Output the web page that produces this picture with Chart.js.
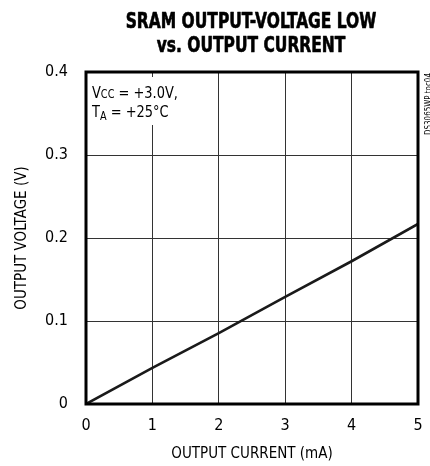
<!DOCTYPE html>
<html lang="en">
<head>
    <meta charset="UTF-8">
    <title>SRAM Output-Voltage Low vs. Output Current</title>
    <script src="https://cdn.jsdelivr.net/npm/chart.js"></script>
    <style>
        * {
            margin: 0;
            padding: 0;
            box-sizing: border-box;
        }

        body {
            background-color: #ffffff;
            width: 430px;
            height: 466px;
            overflow: hidden;
        }

        #chart-container {
            position: relative;
            width: 430px;
            height: 466px;
        }
    </style>
</head>
<body>
    <div id="chart-container">
        <canvas id="volChart"></canvas>
    </div>

    <script>
        // Values
        const currentMa = [0, 1, 2, 3, 4, 5];
        const outputVolts = [0, 0.0434, 0.0855, 0.129, 0.172, 0.217];
        const xTicks = [0, 1, 2, 3, 4, 5];
        const yTicks = [0, 0.1, 0.2, 0.3, 0.4];

        const titleLines = ['SRAM OUTPUT-VOLTAGE LOW', 'vs. OUTPUT CURRENT'];
        const narrow = "'Liberation Sans Narrow', 'DejaVu Sans Condensed', sans-serif";

        // squeezed text helper, the reference uses a condensed face
        function squeezed(ctx, text, x, y, sx, heavy) {
            ctx.save();
            ctx.translate(x, y);
            ctx.scale(sx, 1);
            if (heavy) {
                ctx.lineWidth = heavy;
                ctx.strokeStyle = ctx.fillStyle;
                ctx.lineJoin = 'round';
                ctx.strokeText(text, 0, 0);
            }
            ctx.fillText(text, 0, 0);
            ctx.restore();
            return ctx.measureText(text).width * sx;
        }

        // Title, conditions box, frame and side code
        const decorations = {
            id: 'decorations',
            beforeDatasetsDraw(chart) {
                const { ctx, chartArea } = chart;
                ctx.save();
                // white box hiding the grid behind the conditions text
                ctx.fillStyle = '#ffffff';
                ctx.fillRect(chartArea.left + 2, chartArea.top + 5, 92, 48);

                ctx.fillStyle = '#000000';
                ctx.textBaseline = 'alphabetic';
                ctx.textAlign = 'left';
                const sx = 0.9;
                let x = chartArea.left + 6;
                ctx.font = '16px ' + narrow;
                x += squeezed(ctx, 'V', x, 98, sx);
                ctx.font = '12px ' + narrow;
                x += squeezed(ctx, 'CC', x, 98, sx);
                ctx.font = '16px ' + narrow;
                squeezed(ctx, ' = +3.0V,', x, 98, sx);

                x = chartArea.left + 6;
                x += squeezed(ctx, 'T', x, 117, sx);
                ctx.font = '12px ' + narrow;
                x += squeezed(ctx, 'A', x, 120, sx);
                ctx.font = '16px ' + narrow;
                squeezed(ctx, ' = +25°C', x, 117, sx);
                ctx.restore();
            },
            afterDraw(chart) {
                const { ctx, chartArea } = chart;
                ctx.save();
                // heavy frame
                ctx.strokeStyle = '#000000';
                ctx.lineWidth = 3;
                ctx.strokeRect(chartArea.left, chartArea.top,
                    chartArea.right - chartArea.left, chartArea.bottom - chartArea.top);

                // title
                ctx.fillStyle = '#000000';
                ctx.textAlign = 'center';
                ctx.textBaseline = 'alphabetic';
                ctx.font = 'bold 21px ' + narrow;
                squeezed(ctx, titleLines[0], 251, 28, 0.82, 0.6);
                squeezed(ctx, titleLines[1], 251, 52, 0.82, 0.6);

                // side code
                ctx.translate(431, 104);
                ctx.rotate(-Math.PI / 2);
                ctx.font = '9px ' + narrow;
                squeezed(ctx, 'DS3065WP toc04', 0, 0, 0.88);
                ctx.restore();
            }
        };

        const ctx = document.getElementById('volChart').getContext('2d');
        const volChart = new Chart(ctx, {
            type: 'line',
            data: {
                datasets: [
                    {
                        data: currentMa.map((c, i) => ({ x: c, y: outputVolts[i] })),
                        borderColor: '#1a1a1a',
                        borderWidth: 2.6,
                        pointRadius: 0,
                        fill: false,
                        tension: 0,
                    },
                ],
            },
            options: {
                responsive: true,
                maintainAspectRatio: false,
                animation: false,
                layout: {
                    padding: { left: 0, right: 12, top: 72, bottom: 0 },
                },
                plugins: {
                    legend: { display: false },
                    tooltip: { enabled: false },
                },
                scales: {
                    x: {
                        type: 'linear',
                        min: 0,
                        max: 5,
                        afterFit: (scale) => {
                            scale.height = 62;
                            scale.paddingLeft = 0;
                            scale.paddingRight = 0;
                        },
                        afterBuildTicks: (scale) => {
                            scale.ticks = xTicks.map((v) => ({ value: v }));
                        },
                        grid: { color: '#333333', lineWidth: 1, drawTicks: false },
                        border: { display: false },
                        ticks: {
                            color: '#000000',
                            padding: 12,
                            maxRotation: 0,
                            font: { family: narrow, size: 16 },
                        },
                        title: {
                            display: true,
                            text: 'OUTPUT CURRENT (mA)',
                            color: '#000000',
                            padding: { top: 0, bottom: 3 },
                            font: { family: narrow, size: 15 },
                        },
                    },
                    y: {
                        type: 'linear',
                        min: 0,
                        max: 0.4,
                        afterFit: (scale) => {
                            scale.width = 86;
                            scale.paddingTop = 0;
                            scale.paddingBottom = 0;
                        },
                        afterBuildTicks: (scale) => {
                            scale.ticks = yTicks.map((v) => ({ value: v }));
                        },
                        grid: { color: '#333333', lineWidth: 1, drawTicks: false },
                        border: { display: false },
                        ticks: {
                            color: '#000000',
                            padding: 18,
                            font: { family: narrow, size: 16 },
                            callback: (v) => (v === 0 ? '0' : v.toFixed(1)),
                        },
                        title: {
                            display: true,
                            text: 'OUTPUT VOLTAGE (V)',
                            color: '#000000',
                            padding: { top: 13, bottom: 0 },
                            font: { family: narrow, size: 15 },
                        },
                    },
                },
            },
            plugins: [decorations],
        });
    </script>
</body>
</html>
